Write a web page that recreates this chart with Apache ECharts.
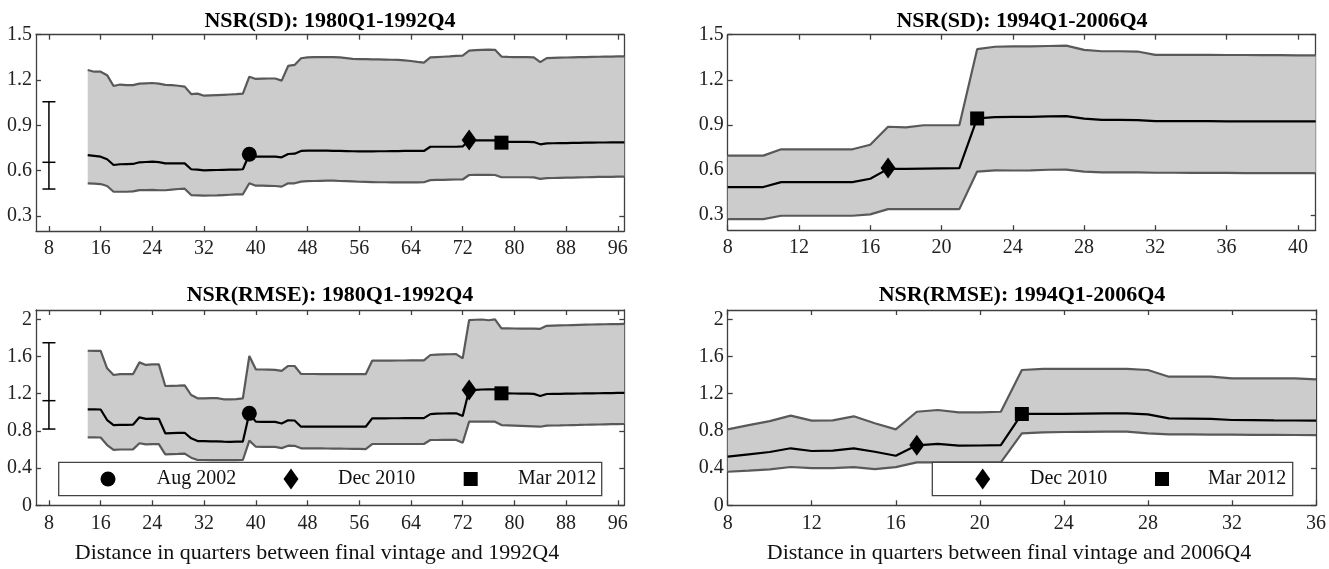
<!DOCTYPE html>
<html><head><meta charset="utf-8">
<script src="https://cdn.jsdelivr.net/npm/echarts@6/dist/echarts.min.js"></script>
<style>html,body{margin:0;padding:0;background:#fff}#c{width:1329px;height:569px}</style>
</head><body><div id="c"></div><script>
// ---------------- DATA ----------------
const titles = ['NSR(SD): 1980Q1-1992Q4', 'NSR(SD): 1994Q1-2006Q4', 'NSR(RMSE): 1980Q1-1992Q4', 'NSR(RMSE): 1994Q1-2006Q4'];
const xAxisNames = ['Distance in quarters between final vintage and 1992Q4', 'Distance in quarters between final vintage and 2006Q4'];
const vintages = ['Aug 2002', 'Dec 2010', 'Mar 2012'];

const xTicksEarly = [8, 16, 24, 32, 40, 48, 56, 64, 72, 80, 88, 96];
const xTicksSD2 = [8, 12, 16, 20, 24, 28, 32, 36, 40];
const xTicksRMSE2 = [8, 12, 16, 20, 24, 28, 32, 36];
const yTicksSD = [0.3, 0.6, 0.9, 1.2, 1.5];
const yTicksRMSE = [0, 0.4, 0.8, 1.2, 1.6, 2];

const earlyQuarters = [14,15,16,17,18,19,20,21,22,23,24,25,26,27,28,29,30,31,32,33,34,35,36,37,38,39,40,41,42,43,44,45,46,47,48,49,50,51,52,53,54,55,56,57,58,59,60,61,62,63,64,65,66,67,68,69,70,71,72,73,74,75,76,77,78,79,80,81,82,83,84,85,86,87,88,89,90,91,92,93,94,95,96,97];
const lateQuartersSD = [8,9,10,11,12,13,14,15,16,17,18,19,20,21,22,23,24,25,26,27,28,29,30,31,32,33,34,35,36,37,38,39,40,41];
const lateQuartersRMSE = [8,9,10,11,12,13,14,15,16,17,18,19,20,21,22,23,24,25,26,27,28,29,30,31,32,33,34,35,36];

// Panel 1: NSR(SD) 1980Q1-1992Q4
const sdEarlyUpper = [1.266,1.255,1.255,1.232,1.160,1.170,1.166,1.166,1.176,1.178,
 1.180,1.176,1.168,1.166,1.162,1.156,1.107,1.110,1.096,1.098,
 1.100,1.102,1.104,1.106,1.110,1.222,1.207,1.209,1.210,1.210,
 1.196,1.293,1.300,1.344,1.350,1.352,1.352,1.352,1.352,1.350,
 1.345,1.340,1.338,1.338,1.337,1.336,1.335,1.334,1.333,1.330,
 1.326,1.320,1.315,1.350,1.352,1.354,1.356,1.360,1.362,1.394,
 1.398,1.400,1.401,1.400,1.355,1.353,1.352,1.352,1.352,1.350,
 1.318,1.345,1.347,1.348,1.349,1.350,1.351,1.352,1.353,1.354,
 1.355,1.355,1.356,1.356];
const sdEarlyMedian = [0.703,0.698,0.692,0.675,0.637,0.642,0.643,0.644,0.655,0.657,
 0.659,0.656,0.648,0.648,0.648,0.648,0.609,0.606,0.602,0.603,
 0.604,0.605,0.606,0.607,0.609,0.708,0.692,0.692,0.692,0.692,
 0.688,0.710,0.712,0.730,0.732,0.732,0.732,0.732,0.731,0.730,
 0.729,0.728,0.727,0.727,0.727,0.728,0.728,0.729,0.729,0.730,
 0.730,0.730,0.730,0.758,0.758,0.758,0.758,0.758,0.760,0.803,
 0.800,0.800,0.800,0.800,0.785,0.790,0.790,0.790,0.790,0.789,
 0.774,0.780,0.781,0.782,0.782,0.783,0.784,0.785,0.785,0.786,
 0.786,0.787,0.787,0.787];
const sdEarlyLower = [0.516,0.514,0.511,0.498,0.460,0.460,0.460,0.462,0.471,0.471,
 0.472,0.470,0.470,0.474,0.478,0.480,0.438,0.436,0.434,0.435,
 0.436,0.438,0.440,0.442,0.443,0.516,0.500,0.500,0.499,0.498,
 0.494,0.516,0.516,0.527,0.530,0.531,0.532,0.533,0.533,0.531,
 0.530,0.528,0.526,0.525,0.524,0.523,0.523,0.522,0.522,0.522,
 0.522,0.522,0.523,0.537,0.538,0.539,0.540,0.541,0.541,0.571,
 0.572,0.572,0.572,0.571,0.556,0.556,0.556,0.556,0.556,0.555,
 0.545,0.550,0.551,0.552,0.553,0.554,0.555,0.556,0.557,0.558,
 0.559,0.559,0.560,0.560];

// Panel 2: NSR(SD) 1994Q1-2006Q4
const sdLateUpper = [0.696,0.696,0.696,0.738,0.738,0.738,0.738,0.738,0.768,0.888,
 0.884,0.898,0.898,0.898,1.404,1.420,1.422,1.423,1.425,1.427,
 1.399,1.390,1.390,1.388,1.366,1.366,1.366,1.366,1.365,1.365,
 1.364,1.364,1.363,1.363];
const sdLateMedian = [0.487,0.487,0.487,0.520,0.520,0.520,0.520,0.520,0.542,0.608,
 0.608,0.610,0.611,0.612,0.943,0.952,0.953,0.954,0.957,0.958,
 0.942,0.933,0.933,0.932,0.925,0.925,0.925,0.925,0.924,0.924,
 0.924,0.924,0.923,0.923];
const sdLateLower = [0.274,0.274,0.274,0.296,0.296,0.296,0.296,0.296,0.305,0.340,
 0.340,0.340,0.340,0.340,0.590,0.598,0.597,0.598,0.602,0.603,
 0.590,0.585,0.585,0.584,0.582,0.582,0.581,0.581,0.581,0.580,
 0.580,0.580,0.580,0.580];

// Panel 3: NSR(RMSE) 1980Q1-1992Q4
const rmseEarlyUpper = [1.662,1.660,1.660,1.473,1.401,1.410,1.410,1.410,1.537,1.509,
 1.515,1.515,1.283,1.285,1.286,1.290,1.186,1.150,1.150,1.152,
 1.153,1.140,1.140,1.142,1.150,1.605,1.462,1.460,1.458,1.456,
 1.445,1.498,1.498,1.412,1.412,1.412,1.411,1.411,1.410,1.410,
 1.410,1.410,1.410,1.410,1.555,1.555,1.556,1.556,1.557,1.557,
 1.558,1.558,1.558,1.616,1.620,1.622,1.624,1.625,1.580,1.992,
 1.995,1.998,1.990,2.000,1.903,1.902,1.901,1.900,1.900,1.900,
 1.898,1.930,1.932,1.934,1.936,1.938,1.940,1.942,1.944,1.946,
 1.947,1.948,1.949,1.950];
const rmseEarlyMedian = [1.032,1.032,1.030,0.917,0.863,0.865,0.865,0.866,0.946,0.930,
 0.932,0.930,0.774,0.776,0.778,0.780,0.720,0.691,0.690,0.688,
 0.688,0.685,0.683,0.684,0.685,0.989,0.899,0.898,0.897,0.897,
 0.880,0.914,0.912,0.845,0.845,0.846,0.846,0.846,0.846,0.846,
 0.845,0.845,0.845,0.845,0.935,0.935,0.935,0.936,0.936,0.937,
 0.937,0.938,0.938,0.981,0.985,0.987,0.988,0.989,0.960,1.240,
 1.242,1.245,1.247,1.247,1.204,1.203,1.202,1.200,1.200,1.198,
 1.175,1.197,1.198,1.199,1.200,1.201,1.202,1.203,1.204,1.205,
 1.206,1.207,1.208,1.208];
const rmseEarlyLower = [0.731,0.731,0.729,0.648,0.595,0.600,0.600,0.601,0.667,0.656,
 0.658,0.658,0.548,0.550,0.552,0.555,0.512,0.487,0.487,0.486,
 0.486,0.485,0.485,0.486,0.487,0.695,0.630,0.629,0.628,0.628,
 0.615,0.641,0.640,0.613,0.613,0.612,0.612,0.611,0.610,0.609,
 0.608,0.607,0.606,0.605,0.659,0.659,0.659,0.659,0.659,0.659,
 0.659,0.659,0.659,0.702,0.702,0.703,0.703,0.703,0.673,0.899,
 0.900,0.900,0.900,0.899,0.863,0.860,0.857,0.854,0.851,0.848,
 0.845,0.857,0.858,0.859,0.861,0.863,0.864,0.866,0.868,0.869,
 0.871,0.872,0.873,0.874];

// Panel 4: NSR(RMSE) 1994Q1-2006Q4
const rmseLateUpper = [0.817,0.862,0.905,0.964,0.910,0.914,0.957,0.882,0.817,1.006,
 1.025,1.000,1.000,1.006,1.455,1.466,1.466,1.466,1.466,1.466,
 1.455,1.383,1.383,1.383,1.365,1.365,1.365,1.365,1.355];
const rmseLateMedian = [0.523,0.548,0.573,0.613,0.584,0.588,0.613,0.576,0.533,0.645,
 0.660,0.642,0.643,0.648,0.982,0.982,0.984,0.986,0.988,0.989,
 0.978,0.935,0.933,0.930,0.917,0.915,0.913,0.912,0.910];
const rmseLateLower = [0.361,0.372,0.387,0.412,0.400,0.400,0.410,0.390,0.410,0.462,
 0.462,0.462,0.462,0.462,0.774,0.785,0.788,0.790,0.792,0.792,
 0.774,0.763,0.762,0.761,0.760,0.758,0.757,0.756,0.755];

// vintage markers [quarter, value] for Aug 2002, Dec 2010, Mar 2012
const sdEarlyVintages = [[39, 0.708], [73, 0.803], [78, 0.785]];
const sdLateVintages = [null, [17, 0.613], [22, 0.943]];
const rmseEarlyVintages = [[39, 0.989], [73, 1.240], [78, 1.204]];
const rmseLateVintages = [null, [17, 0.645], [22, 0.982]];

// reference error bars [quarter, low, mid, high]
const sdEarlyErrorBar = [8, 0.478, 0.655, 1.056];
const rmseEarlyErrorBar = [8, 0.82, 1.125, 1.748];

// ---------------- CHART ----------------
const FONT = 'Liberation Serif';
const AXC = '#3f3f3f';
const BAND = '#cccccc';
const EDGE = '#595959';
const SYMBOLS = ['circle', 'diamond', 'rect'];
const SYMSIZE = [15, [15, 21], 14];

const panels = [
  {grid: {left: 36, top: 34.7, width: 588.3, height: 196.3}, xMin: 6, xMax: 97, xTicks: xTicksEarly, yMin: 0.2, yMax: 1.5, yTicks: yTicksSD,
   q: earlyQuarters, up: sdEarlyUpper, med: sdEarlyMedian, lo: sdEarlyLower, vin: sdEarlyVintages, err: sdEarlyErrorBar, tx: 330, ty: 21},
  {grid: {left: 727.7, top: 34.7, width: 588, height: 195.5}, xMin: 8, xMax: 41, xTicks: xTicksSD2, yMin: 0.2, yMax: 1.5, yTicks: yTicksSD,
   q: lateQuartersSD, up: sdLateUpper, med: sdLateMedian, lo: sdLateLower, vin: sdLateVintages, err: null, tx: 1022, ty: 21},
  {grid: {left: 36, top: 310, width: 588.3, height: 195.3}, xMin: 6, xMax: 97, xTicks: xTicksEarly, yMin: 0, yMax: 2.1, yTicks: yTicksRMSE,
   q: earlyQuarters, up: rmseEarlyUpper, med: rmseEarlyMedian, lo: rmseEarlyLower, vin: rmseEarlyVintages, err: rmseEarlyErrorBar, tx: 330, ty: 295},
  {grid: {left: 727.7, top: 310, width: 589, height: 195.3}, xMin: 8, xMax: 36, xTicks: xTicksRMSE2, yMin: 0, yMax: 2.1, yTicks: yTicksRMSE,
   q: lateQuartersRMSE, up: rmseLateUpper, med: rmseLateMedian, lo: rmseLateLower, vin: rmseLateVintages, err: null, tx: 1022, ty: 295}
];

const grids = [], xAxes = [], yAxes = [], series = [], titleOpts = [];
const lineSty = {color: AXC, width: 1.3};
const fmt = v => String(Math.round(v * 10) / 10);
const labelSty = {fontSize: 20, fontFamily: FONT, fontStyle: 'normal', fontWeight: 'normal', color: '#222'};

panels.forEach((p, i) => {
  grids.push(Object.assign({containLabel: false}, p.grid));
  const common = {gridIndex: i, type: 'value', splitLine: {show: false}, axisLine: {show: true, onZero: false, lineStyle: lineSty}};
  xAxes.push(Object.assign({}, common, {position: 'bottom', min: p.xMin, max: p.xMax,
    axisTick: {show: true, inside: true, length: 5, customValues: p.xTicks, lineStyle: lineSty},
    axisLabel: Object.assign({show: true, customValues: p.xTicks, margin: 8}, labelSty)}));
  xAxes.push(Object.assign({}, common, {position: 'top', min: p.xMin, max: p.xMax,
    axisTick: {show: true, inside: true, length: 5, customValues: p.xTicks, lineStyle: lineSty},
    axisLabel: {show: false}}));
  yAxes.push(Object.assign({}, common, {position: 'left', min: p.yMin, max: p.yMax,
    axisTick: {show: true, inside: true, length: 5, customValues: p.yTicks, lineStyle: lineSty},
    axisLabel: Object.assign({show: true, customValues: p.yTicks, margin: 4, formatter: fmt}, labelSty)}));
  yAxes.push(Object.assign({}, common, {position: 'right', min: p.yMin, max: p.yMax,
    axisTick: {show: true, inside: true, length: 5, customValues: p.yTicks, lineStyle: lineSty},
    axisLabel: {show: false}}));
  const xi = i * 2, yi = i * 2;
  const q = p.q, up = p.up, lo = p.lo;
  // band
  series.push({
    type: 'custom', xAxisIndex: xi, yAxisIndex: yi, z: 1, clip: true, silent: true,
    data: q.map((x, k) => [x, lo[k], up[k]]),
    encode: {x: 0, y: [1, 2]},
    renderItem: (params, api) => {
      if (params.dataIndex !== 0) return null;
      const pts = [];
      for (let k = 0; k < q.length; k++) pts.push(api.coord([q[k], up[k]]));
      for (let k = q.length - 1; k >= 0; k--) pts.push(api.coord([q[k], lo[k]]));
      return {type: 'polygon', shape: {points: pts}, style: {fill: BAND, stroke: null}};
    }
  });
  const mkLine = (vals, color, z) => ({
    type: 'line', xAxisIndex: xi, yAxisIndex: yi, z: z, showSymbol: false, symbol: 'none', silent: true,
    data: q.map((x, k) => [x, vals[k]]),
    lineStyle: {color: color, width: 2.2}, itemStyle: {color: color}
  });
  series.push(mkLine(lo, EDGE, 2));
  series.push(mkLine(up, EDGE, 2));
  series.push(mkLine(p.med, '#000', 3));
  if (p.err) {
    series.push({
      type: 'custom', xAxisIndex: xi, yAxisIndex: yi, z: 4, silent: true,
      data: [p.err], encode: {x: 0, y: [1, 2, 3]},
      renderItem: (params, api) => {
        const x = api.value(0);
        const a = api.coord([x, api.value(1)]), m = api.coord([x, api.value(2)]), b = api.coord([x, api.value(3)]);
        const w = 6.5, st = {stroke: '#000', lineWidth: 1.5};
        return {type: 'group', children: [
          {type: 'line', shape: {x1: b[0], y1: b[1], x2: a[0], y2: a[1]}, style: st},
          {type: 'line', shape: {x1: b[0] - w, y1: b[1], x2: b[0] + w, y2: b[1]}, style: st},
          {type: 'line', shape: {x1: m[0] - w, y1: m[1], x2: m[0] + w, y2: m[1]}, style: st},
          {type: 'line', shape: {x1: a[0] - w, y1: a[1], x2: a[0] + w, y2: a[1]}, style: st}
        ]};
      }
    });
  }
  p.vin.forEach((pt, k) => {
    if (!pt) return;
    series.push({
      type: 'scatter', name: vintages[k], xAxisIndex: xi, yAxisIndex: yi, z: 5,
      symbol: SYMBOLS[k], symbolSize: SYMSIZE[k], data: [pt], itemStyle: {color: '#000', opacity: 1}, silent: true
    });
  });
  titleOpts.push({text: titles[i], left: p.tx, top: p.ty, textAlign: 'center', textVerticalAlign: 'middle', padding: 0,
    textStyle: {fontFamily: FONT, fontSize: 22, fontWeight: 'bold', color: '#000'}});
});
titleOpts.push({text: xAxisNames[0], left: 317, top: 553, textAlign: 'center', textVerticalAlign: 'middle', padding: 0,
  textStyle: {fontFamily: FONT, fontSize: 22, fontWeight: 'normal', color: '#111'}});
titleOpts.push({text: xAxisNames[1], left: 1009, top: 553, textAlign: 'center', textVerticalAlign: 'middle', padding: 0,
  textStyle: {fontFamily: FONT, fontSize: 22, fontWeight: 'normal', color: '#111'}});

// legends (boxes drawn as graphics)
function legendGraphics(box, items) {
  const els = [{type: 'rect', shape: {x: box[0], y: box[1], width: box[2], height: box[3]}, style: {fill: '#fff', stroke: '#444', lineWidth: 1.3}, z: 100}];
  const cy = box[1] + box[3] / 2;
  items.forEach(it => {
    const k = it.k;
    if (SYMBOLS[k] === 'circle') els.push({type: 'circle', shape: {cx: it.cx, cy: cy, r: 7.5}, style: {fill: '#000'}, z: 101});
    else if (SYMBOLS[k] === 'diamond') els.push({type: 'polygon', shape: {points: [[it.cx, cy - 10.5], [it.cx + 7.5, cy], [it.cx, cy + 10.5], [it.cx - 7.5, cy]]}, style: {fill: '#000'}, z: 101});
    else els.push({type: 'rect', shape: {x: it.cx - 7, y: cy - 7, width: 14, height: 14}, style: {fill: '#000'}, z: 101});
    els.push({type: 'text', x: it.tx, y: cy, z: 101, style: {text: vintages[k], fontSize: 20, fontFamily: FONT, fill: '#111', align: 'left', verticalAlign: 'middle'}});
  });
  return els;
}
const graphics = [].concat(
  legendGraphics([58.7, 462.3, 543, 33.4], [{k: 0, cx: 108, tx: 156.7}, {k: 1, cx: 291, tx: 338}, {k: 2, cx: 470.7, tx: 518}]),
  legendGraphics([932.3, 462.3, 360.4, 33.4], [{k: 1, cx: 982.7, tx: 1030}, {k: 2, cx: 1162, tx: 1208}])
);

const chart = echarts.init(document.getElementById('c'), null, {renderer: 'canvas'});
chart.setOption({
  animation: false,
  backgroundColor: '#fff',
  textStyle: {fontFamily: FONT},
  title: titleOpts,
  grid: grids,
  xAxis: xAxes,
  yAxis: yAxes,
  series: series,
  graphic: graphics
});
</script></body></html>
